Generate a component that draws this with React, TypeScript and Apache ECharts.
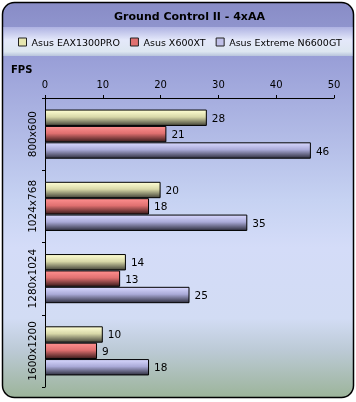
import React, { useEffect, useRef } from "react";
import * as echarts from "echarts";

const categories = ["800x600", "1024x768", "1280x1024", "1600x1200"];
const seriesNames = ["Asus EAX1300PRO", "Asus X600XT", "Asus Extreme N6600GT"];
const eax1300pro = [28, 20, 14, 10];
const x600xt = [21, 18, 13, 9];
const n6600gt = [46, 35, 25, 18];
const xTicks = { min: 0, max: 50, interval: 10 };

const FONT = "DejaVu Sans";

const grad = (top: string, mid: string, bottom: string) =>
  new echarts.graphic.LinearGradient(0, 0, 0, 1, [
    { offset: 0, color: top },
    { offset: 0.45, color: mid },
    { offset: 1, color: bottom },
  ]);

export default function App() {
  const ref = useRef<HTMLDivElement>(null);
  useEffect(() => {
    if (!ref.current) return;
    const chart = echarts.init(ref.current, undefined, { renderer: "svg" });
    const colors = [
      { fill: grad("#ffffd4", "#d8d8a8", "#45453a"), legend: "#e6e6b0" },
      { fill: grad("#ff9090", "#e07070", "#3c1c1c"), legend: "#e07070" },
      { fill: grad("#d8d8ff", "#aaaad8", "#303040"), legend: "#c0c0e8" },
    ];
    const datas = [eax1300pro, x600xt, n6600gt];
    chart.setOption({
      animation: false,
      graphic: [
        {
          type: "rect",
          z: -10,
          shape: { x: 2.5, y: 2.5, width: 351, height: 395, r: 12 },
          style: {
            fill: new echarts.graphic.LinearGradient(0, 0, 0, 1, [
              { offset: 0, color: "#888cc6" },
              { offset: 0.15, color: "#9aa0d8" },
              { offset: 0.5, color: "#c6d2f2" },
              { offset: 0.62, color: "#d4dcf8" },
              { offset: 0.8, color: "#d2dcf4" },
              { offset: 0.88, color: "#bccad6" },
              { offset: 1, color: "#9cb49a" },
            ]),
            stroke: "#000",
            lineWidth: 1.5,
          },
        },
        {
          type: "rect",
          z: -9,
          shape: { x: 3.5, y: 27, width: 349, height: 29 },
          style: {
            fill: new echarts.graphic.LinearGradient(0, 0, 0, 1, [
              { offset: 0, color: "#aeb2e2" },
              { offset: 0.45, color: "#e4e8fa" },
              { offset: 0.85, color: "#dde6f0" },
              { offset: 1, color: "#b8c4dc" },
            ]),
          },
        },
        {
          type: "text",
          x: 189.5,
          y: 16,
          style: {
            text: "Ground Control II - 4xAA",
            fontFamily: FONT,
            fontWeight: "bold",
            fontSize: 11,
            fill: "#000",
            align: "center",
            verticalAlign: "middle",
          },
        },
        {
          type: "text",
          x: 11,
          y: 69,
          style: {
            text: "FPS",
            fontFamily: FONT,
            fontWeight: "bold",
            fontSize: 10,
            fill: "#000",
            align: "left",
            verticalAlign: "middle",
          },
        },
      ],
      legend: {
        top: 37,
        left: 18,
        width: 338,
        padding: 0,
        itemWidth: 8,
        itemHeight: 8,
        itemGap: 10,
        icon: "rect",
        textStyle: { fontFamily: FONT, fontSize: 9.5, color: "#000" },
        data: seriesNames.map((n, i) => ({
          name: n,
          itemStyle: { color: colors[i].legend, borderColor: "#222", borderWidth: 1 },
        })),
      },
      grid: { left: 45, right: 22, top: 98, bottom: 15 },
      xAxis: {
        type: "value",
        position: "top",
        min: xTicks.min,
        max: xTicks.max,
        interval: xTicks.interval,
        axisLine: { show: true, lineStyle: { color: "#000", width: 1 } },
        axisTick: { show: true, length: 3, lineStyle: { color: "#000" } },
        axisLabel: { fontFamily: FONT, fontSize: 10, color: "#000", margin: 9 },
        splitLine: { show: false },
      },
      yAxis: {
        type: "category",
        inverse: true,
        data: categories,
        axisLine: { show: true, lineStyle: { color: "#000", width: 1 } },
        axisTick: { show: true, length: 3, lineStyle: { color: "#000" } },
        axisLabel: {
          fontFamily: FONT,
          fontSize: 10.5,
          color: "#000",
          rotate: 90,
          margin: 8,
          interval: 0,
          hideOverlap: false,
        },
      },
      series: seriesNames.map((n, i) => ({
        name: n,
        type: "bar",
        data: datas[i],
        barGap: "0%",
        barCategoryGap: "32%",
        itemStyle: { color: colors[i].fill, borderColor: "#000", borderWidth: 1 },
        label: {
          show: true,
          position: "right",
          distance: 5,
          fontFamily: FONT,
          fontSize: 10.5,
          color: "#000",
        },
      })),
    });
    return () => chart.dispose();
  }, []);
  return (
    <div
      ref={ref}
      style={{ position: "fixed", left: 0, top: 0, width: 356, height: 402 }}
    />
  );
}
